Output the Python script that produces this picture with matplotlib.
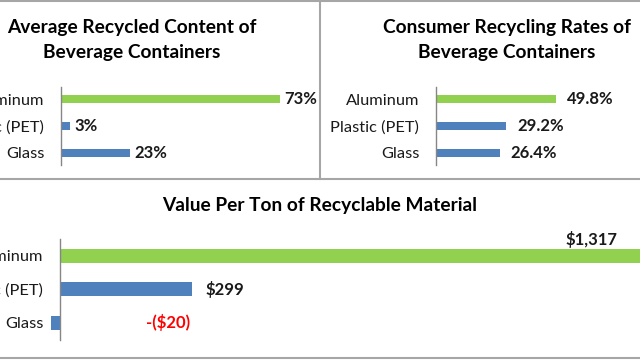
import matplotlib
matplotlib.use("Agg")
import matplotlib.pyplot as plt
from matplotlib.lines import Line2D

plt.rcParams['font.family'] = ['Lato', 'DejaVu Sans']

categories = ["Aluminum", "Plastic (PET)", "Glass"]
content_pct = [73, 3, 23]
content_labels = ["73%", "3%", "23%"]
rates_pct = [49.8, 29.2, 26.4]
rates_labels = ["49.8%", "29.2%", "26.4%"]
value_per_ton = [1317, 299, -20]
value_labels = ["$1,317", "$299", "-($20)"]

GREEN = "#92D050"
BLUE = "#4F81BD"
AXIS_GRAY = "#868686"
BORDER = "#A6A6A6"
TXT = "#1a1a1a"

W, H = 640, 360
fig = plt.figure(figsize=(6.4, 3.6), dpi=100)


def px_axes(x0, y_top, x1, y_bot):
    # pixel box -> figure fraction
    return fig.add_axes([x0 / W, 1 - y_bot / H, (x1 - x0) / W, (y_bot - y_top) / H])


def bar_panel(ax, values, px_per_unit, x_left_px, width_px, ylo, yhi, height):
    colors = [GREEN] + [BLUE] * (len(values) - 1)
    y = list(range(len(values)))
    ax.barh(y, values, height=height, color=colors)
    xmin = -x_left_px / px_per_unit
    ax.set_xlim(xmin, xmin + width_px / px_per_unit)
    ax.set_ylim(yhi, ylo)
    for s in ["top", "right", "bottom"]:
        ax.spines[s].set_visible(False)
    ax.spines["left"].set_position(("data", 0))
    ax.spines["left"].set_color(AXIS_GRAY)
    ax.spines["left"].set_linewidth(1.0)
    ax.set_xticks([])
    ax.set_yticks(y)
    ax.set_yticklabels(categories, fontsize=11.8, color=TXT)
    ax.tick_params(axis="y", length=0, pad=12)
    ax.patch.set_alpha(0)
    return y


# top-left: average recycled content
ax1 = px_axes(0, 87, 320, 165)
y = bar_panel(ax1, content_pct, 3.0, 61, 320, -0.45, 2.45, 0.3)
for yi, v, lab in zip(y, content_pct, content_labels):
    ax1.annotate(lab, (v, yi), xytext=(3, 0), textcoords="offset points",
                 va="center", ha="left", fontsize=12, fontweight="bold", color=TXT)
fig.text(132 / W, 1 - 40 / H, "Average Recycled Content of\nBeverage Containers",
         ha="center", va="center", fontsize=13.75, fontweight="bold", linespacing=1.58)

# top-right: consumer recycling rates
ax2 = px_axes(320, 87, 640, 165)
y = bar_panel(ax2, rates_pct, 2.41, 116, 320, -0.45, 2.45, 0.3)
for yi, v, lab in zip(y, rates_pct, rates_labels):
    ax2.annotate(lab, (v, yi), xytext=(8, 0), textcoords="offset points",
                 va="center", ha="left", fontsize=12, fontweight="bold", color=TXT)
fig.text(507 / W, 1 - 40 / H, "Consumer Recycling Rates of\nBeverage Containers",
         ha="center", va="center", fontsize=13.75, fontweight="bold", linespacing=1.58)

# bottom: value per ton
ax3 = px_axes(0, 239, 640, 339.5)
y = bar_panel(ax3, value_per_ton, 0.441, 60, 640, -0.5, 2.5, 0.42)
ax3.annotate(value_labels[0], (value_per_ton[0], 0), xytext=(-17, 12), textcoords="offset points",
             va="center", ha="right", fontsize=12, fontweight="bold", color=TXT,
             annotation_clip=False)
ax3.annotate(value_labels[1], (value_per_ton[1], 1), xytext=(10, 0), textcoords="offset points",
             va="center", ha="left", fontsize=12, fontweight="bold", color=TXT)
ax3.annotate(value_labels[2], (0, 2), xytext=(62, 0), textcoords="offset points",
             va="center", ha="left", fontsize=12, fontweight="bold", color="#FF0000")
fig.text(320 / W, 1 - 206 / H, "Value Per Ton of Recyclable Material",
         ha="center", va="center", fontsize=13.75, fontweight="bold")

# panel borders
for xs, ys in [((0, 1), (1 - 1 / H, 1 - 1 / H)),
               ((320 / W, 320 / W), (1 - 1 / H, 1 - 179 / H)),
               ((0, 1), (1 - 179 / H, 1 - 179 / H)),
               ((0, 1), (1 - 357.5 / H, 1 - 357.5 / H))]:
    fig.add_artist(Line2D(xs, ys, color=BORDER, linewidth=1.5))

fig.savefig("out.png", dpi=100)
